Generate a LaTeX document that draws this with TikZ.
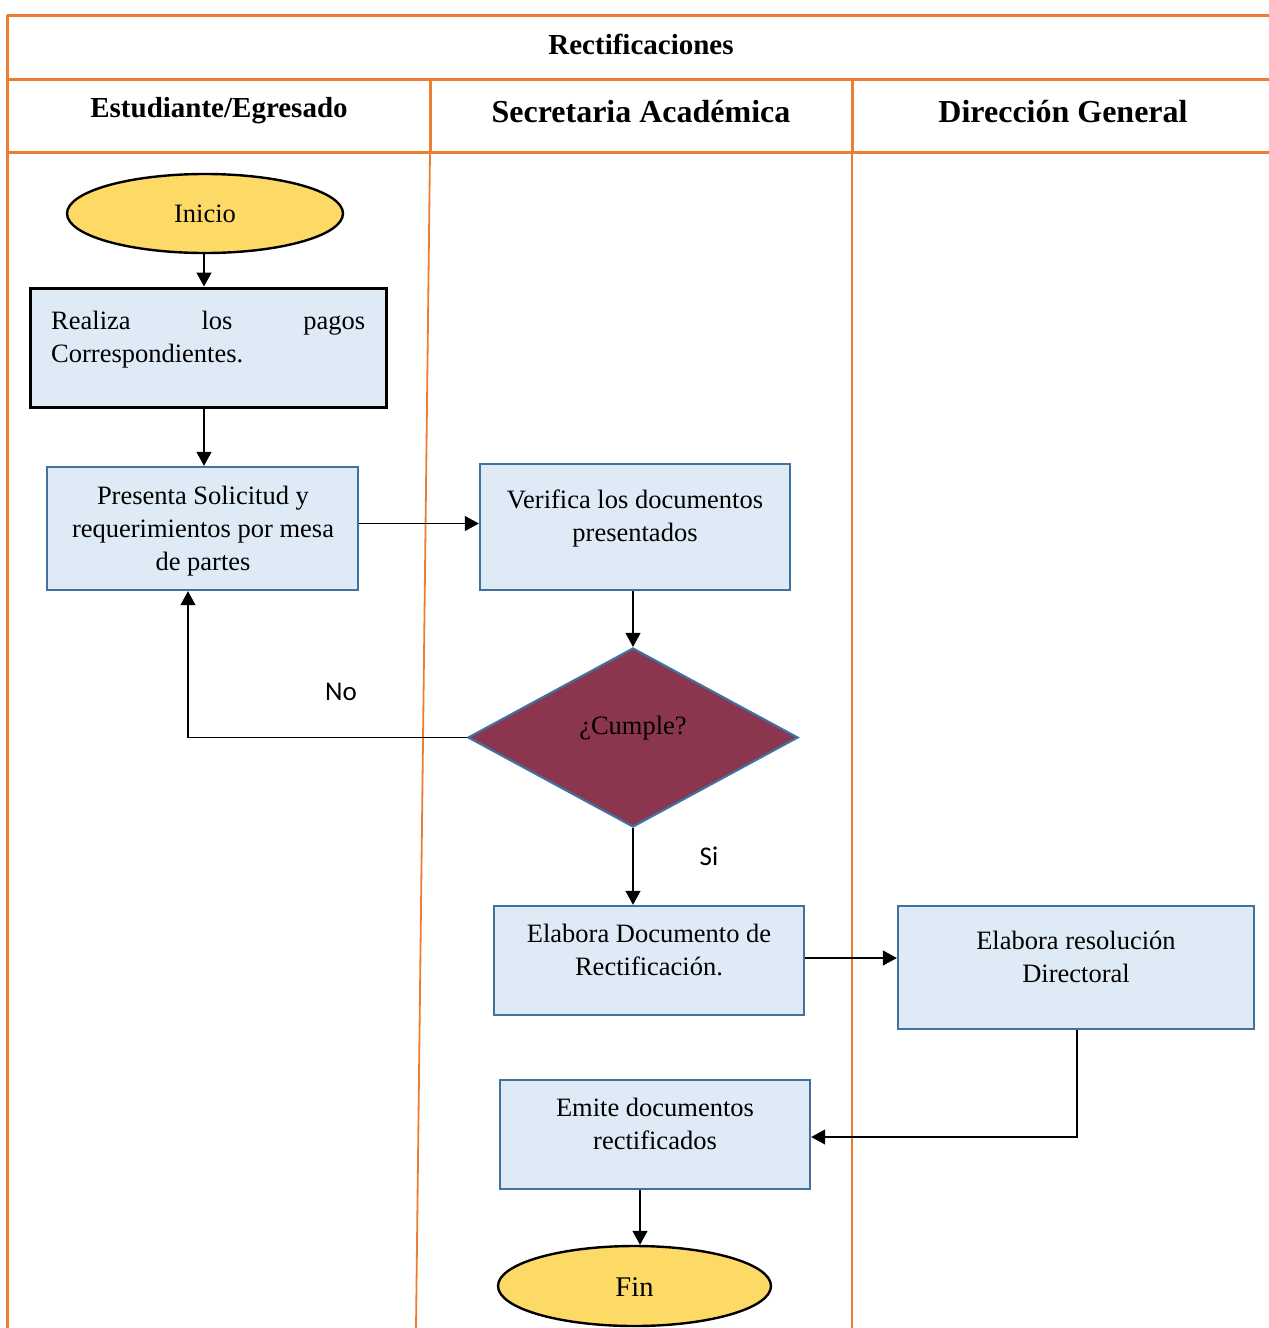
\documentclass[tikz,border=0pt]{standalone}
\usepackage{fontspec}
\setmainfont{Liberation Serif}
\newfontfamily\labelfont{Carlito}
\usetikzlibrary{arrows.meta,shapes.geometric}
\definecolor{laneorange}{HTML}{ED7D31}
\definecolor{procblue}{HTML}{41719C}
\definecolor{procfill}{HTML}{DEEAF6}
\definecolor{termfill}{HTML}{FDD966}
\definecolor{decfill}{HTML}{8B354F}
\tikzset{
  laneline/.style={draw=laneorange, line width=3pt},
  lanethin/.style={draw=laneorange, line width=1.8pt},
  proc/.style={rectangle, draw=procblue, line width=2.4pt, fill=procfill, inner sep=0pt},
  term/.style={ellipse, draw=black, line width=2.4pt, fill=termfill, inner sep=0pt},
  decision/.style={diamond, draw=procblue, line width=2.2pt, fill=decfill, inner sep=0pt},
  flow/.style={draw=black, line width=1.3pt, -{Triangle[length=14pt,width=15pt]}},
  body/.style={font=\fontsize{26.5}{33}\selectfont, align=center, inner sep=0pt},
  head/.style={font=\bfseries\fontsize{32}{38}\selectfont, inner sep=0pt},
  smallhead/.style={font=\bfseries\fontsize{29}{34}\selectfont, inner sep=0pt},
  branch/.style={font=\labelfont\fontsize{27}{32}\selectfont, inner sep=0pt}
}
\begin{document}
\begin{tikzpicture}[x=1pt,y=-1pt]
\useasboundingbox (0,0) rectangle (1269,1328);

% swimlane frame
\draw[laneline] (7,15) -- (1269,15);
\draw[laneline] (7,15) -- (7,1328);
\draw[laneline] (7,79) -- (1269,79);
\draw[laneline] (7,152) -- (1269,152);
\draw[laneline] (430,79) -- (430,152);
\draw[lanethin] (430,152) -- (416,1328);
\draw[laneline] (852,79) -- (852,152);
\draw[lanethin] (852,152) -- (852,1328);

% headers
\node[smallhead] (title) at (641,44) {Rectificaciones};
\node[smallhead] (laneA) at (219,111) {Estudiante/Egresado};
\node[head] (laneB) at (641,112) {Secretaria Académica};
\node[head] (laneC) at (1063,112) {Dirección General};

% shapes
\node[term, minimum width=276pt, minimum height=79pt] (inicio) at (205,213.5) {};
\node[body] (t-inicio) at (205,214) {Inicio};

\node[rectangle, draw=black, line width=3pt, fill=procfill, inner sep=0pt,
      minimum width=356pt, minimum height=119pt] (pagos) at (208,347.5) {};
\node[body, align=left, anchor=west] (t-pagos) at (51,340) 
  {\makebox[314pt][s]{Realiza los pagos}\\Correspondientes.};

\node[proc, minimum width=311pt, minimum height=123pt] (presenta) at (202.5,528.5) {};
\node[body] (t-presenta) at (203,531) {Presenta Solicitud y\\requerimientos por mesa\\de partes};

\node[proc, minimum width=310pt, minimum height=126pt] (verifica) at (635,527) {};
\node[body] (t-verifica) at (635,518.5) {Verifica los documentos\\presentados};

\node[decision, minimum width=330pt, minimum height=179pt] (cumple) at (633,737.5) {};
\node[body] (t-cumple) at (633,728) {¿Cumple?};

\node[proc, minimum width=310pt, minimum height=109pt] (documento) at (649,960.5) {};
\node[body] (t-documento) at (649,950) {Elabora Documento de\\Rectificación.};

\node[proc, minimum width=356pt, minimum height=123pt] (resolucion) at (1076,967.5) {};
\node[body] (t-resolucion) at (1076,957) {Elabora resolución\\Directoral};

\node[proc, minimum width=310pt, minimum height=109pt] (emite) at (655,1134.5) {};
\node[body] (t-emite) at (655,1124) {Emite documentos\\rectificados};

\node[term, minimum width=273pt, minimum height=80pt] (fin) at (634.5,1286) {};
\node[body, font=\fontsize{28.5}{34}\selectfont] (t-fin) at (634.5,1287) {Fin};

% branch labels
\node[branch] (lbl-no) at (341,692) {No};
\node[branch] (lbl-si) at (709,856) {Si};

% connectors
\draw[flow] ([xshift=-1pt]inicio.south) -- ([xshift=-1pt]inicio.south |- pagos.north);
\draw[flow] ([xshift=-4pt]pagos.south) -- ([xshift=-4pt]pagos.south |- presenta.north);
\draw[flow] ([yshift=5pt]presenta.east) -- ([yshift=5pt]presenta.east -| verifica.west);
\draw[flow] (cumple.north |- verifica.south) -- (cumple.north);
\draw[flow] (cumple.west) -| ([xshift=-14.5pt]presenta.south);
\draw[flow] (cumple.south) -- (cumple.south |- documento.north);
\draw[flow] ([yshift=2.5pt]documento.east) -- ([yshift=2.5pt]documento.east -| resolucion.west);
\draw[flow] ([xshift=1pt]resolucion.south) |- ([yshift=-2.5pt]emite.east);
\draw[flow] ([xshift=-15pt]emite.south) -- ([xshift=-15pt]emite.south |- fin.north);
\end{tikzpicture}
\end{document}
